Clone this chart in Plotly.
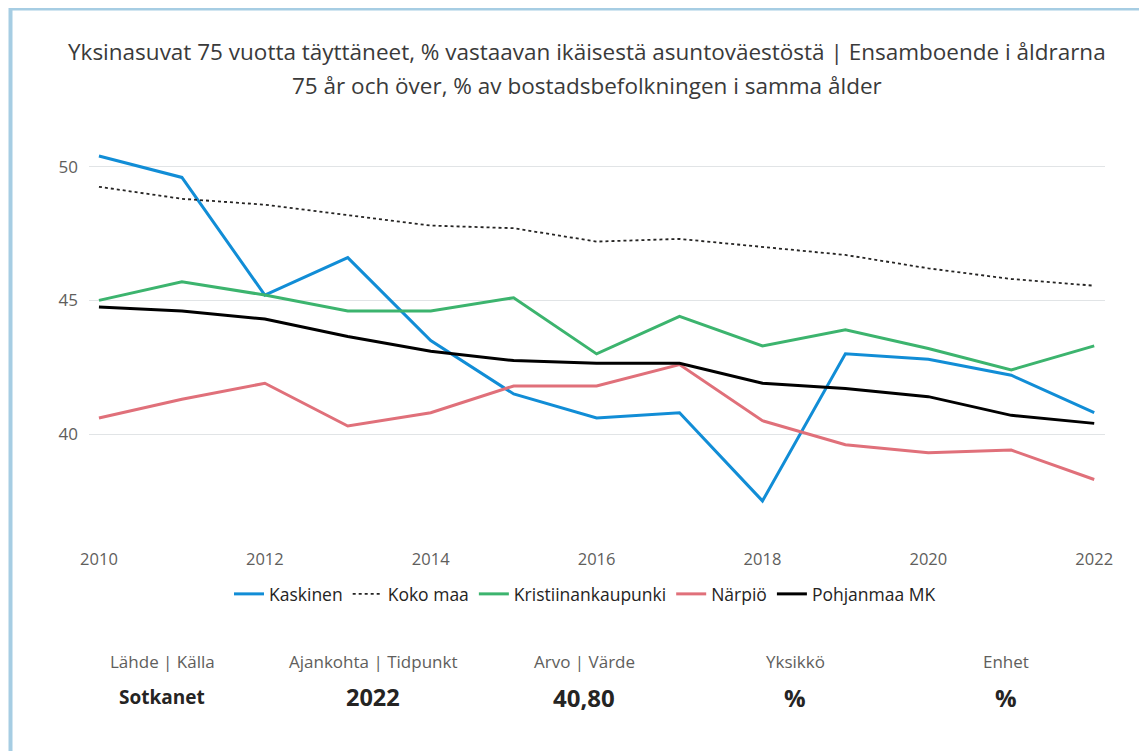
import plotly.graph_objects as go

years = list(range(2010, 2023))
kaskinen = [50.4, 49.6, 45.2, 46.6, 43.5, 41.5, 40.6, 40.8, 37.5, 43.0, 42.8, 42.2, 40.8]
koko_maa = [49.25, 48.8, 48.58, 48.2, 47.8, 47.7, 47.2, 47.3, 47.0, 46.7, 46.2, 45.8, 45.55]
kristiinankaupunki = [45.0, 45.7, 45.2, 44.6, 44.6, 45.1, 43.0, 44.4, 43.3, 43.9, 43.2, 42.4, 43.3]
narpio = [40.6, 41.3, 41.9, 40.3, 40.8, 41.8, 41.8, 42.6, 40.5, 39.6, 39.3, 39.4, 38.3]
pohjanmaa = [44.75, 44.6, 44.3, 43.65, 43.1, 42.75, 42.65, 42.65, 41.9, 41.7, 41.4, 40.7, 40.4]

series_names = ["Kaskinen", "Koko maa", "Kristiinankaupunki", "Närpiö", "Pohjanmaa MK"]
series_values = [kaskinen, koko_maa, kristiinankaupunki, narpio, pohjanmaa]
series_colors = ["#118dd6", "#252423", "#3cb46e", "#e0707a", "#000000"]
series_dash = ["solid", "dot", "solid", "solid", "solid"]
series_width = [3, 1.8, 3, 3, 3]

x_ticks = [2010, 2012, 2014, 2016, 2018, 2020, 2022]
y_ticks = [40, 45, 50]

title_line1 = "Yksinasuvat 75 vuotta täyttäneet, % vastaavan ikäisestä asuntoväestöstä | Ensamboende i åldrarna"
title_line2 = "75 år och över, % av bostadsbefolkningen i samma ålder"

info_headers = ["Lähde | Källa", "Ajankohta | Tidpunkt", "Arvo | Värde", "Yksikkö", "Enhet"]
info_values = ["Sotkanet", "2022", "40,80", "%", "%"]

OFF = 8  # page body margin
W, H = 1147 - OFF, 751 - OFF
PL, PR, PT, PB = 89, 1105, 140, 541  # plot area in screenshot pixels
ML, MR, MT, MB = PL - OFF, W - (PR - OFF), PT - OFF, H - (PB - OFF)
PW = PR - PL
PH = PB - PT


def px(x):
    return (x - PL) / PW


def py(y):
    return (PB - y) / PH


fig = go.Figure()
for name, vals, col, dash, w in zip(series_names, series_values, series_colors, series_dash, series_width):
    fig.add_trace(go.Scatter(x=years, y=vals, name=name, mode="lines",
                             line=dict(color=col, dash=dash, width=w)))

font_family = "Open Sans, Noto Sans, sans-serif"

shapes = [
    dict(type="rect", xref="paper", yref="paper", x0=px(10.5), y0=py(8.5), x1=px(1200), y1=py(800),
         line=dict(color="#a6cde3", width=4), layer="below"),
]

annotations = [
    dict(text=title_line1, xref="paper", yref="paper", x=px(587), y=py(52), xanchor="center", yanchor="middle",
         showarrow=False, font=dict(size=22.5, color="#3a3a3a", family=font_family)),
    dict(text=title_line2, xref="paper", yref="paper", x=px(587), y=py(85), xanchor="center", yanchor="middle",
         showarrow=False, font=dict(size=22.5, color="#3a3a3a", family=font_family)),
]
centers = [162, 373, 584, 795, 1006]
value_sizes = [19, 23.5, 24, 24, 24]
for c, hd, v, s in zip(centers, info_headers, info_values, value_sizes):
    annotations.append(dict(text=hd, xref="paper", yref="paper", x=px(c), y=py(661), xanchor="center",
                            yanchor="middle", showarrow=False,
                            font=dict(size=17, color="#605e5c", family=font_family)))
    annotations.append(dict(text="<b>" + v + "</b>", xref="paper", yref="paper", x=px(c), y=py(697),
                            xanchor="center", yanchor="middle", showarrow=False,
                            font=dict(size=s, color="#252423", family=font_family)))

fig.update_layout(
    width=W, height=H,
    margin=dict(l=ML, r=MR, t=MT, b=MB, autoexpand=False),
    paper_bgcolor="white", plot_bgcolor="white",
    font=dict(family=font_family, color="#605e5c", size=16),
    showlegend=True,
    legend=dict(orientation="h", x=px(585), y=py(594), xanchor="center", yanchor="middle",
                font=dict(size=17.5, color="#252423"), itemwidth=30, tracegroupgap=0),
    xaxis=dict(range=[2009.88, 2022.13], tickvals=x_ticks, showgrid=False, zeroline=False, showline=False,
               ticks="", ticklabelstandoff=6, tickfont=dict(size=16.5, color="#605e5c")),
    yaxis=dict(range=[36, 51], tickvals=y_ticks, showgrid=True, gridcolor="#e1e4e6", gridwidth=1,
               zeroline=False, showline=False, ticks="", ticklabelstandoff=10,
               tickfont=dict(size=17, color="#605e5c")),
    shapes=shapes,
    annotations=annotations,
)

fig.write_html("out.html")
